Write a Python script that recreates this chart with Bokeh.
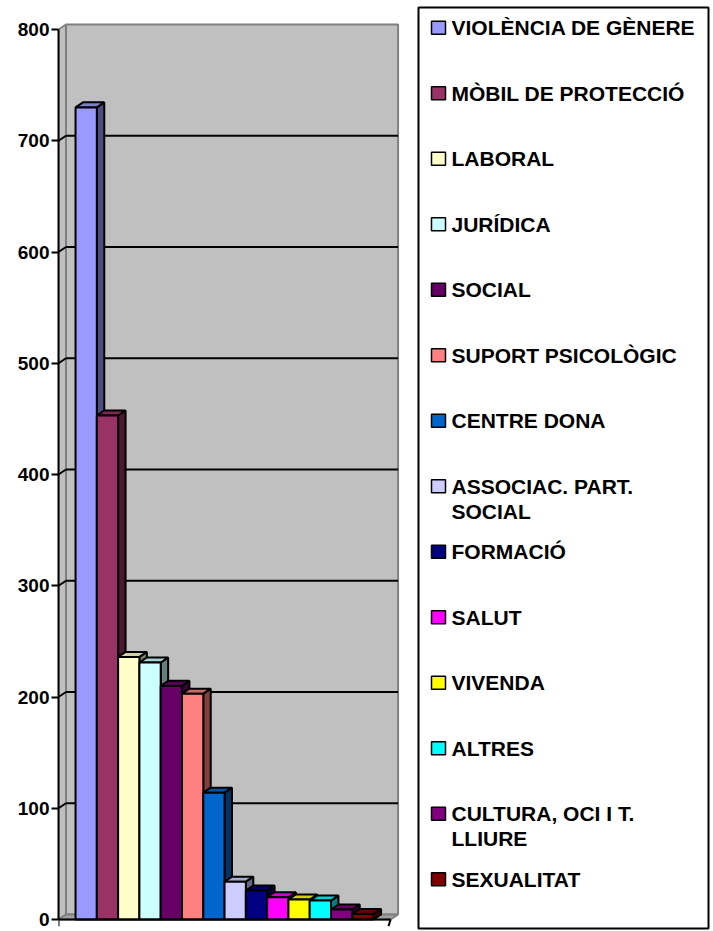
from bokeh.plotting import figure
from bokeh.models import Range1d, FixedTicker, ColumnDataSource
from bokeh.layouts import row
from bokeh.embed import file_html
from bokeh.resources import INLINE
from bokeh.core.properties import value

# ---------------- data ----------------
categories = ["VIOLÈNCIA DE GÈNERE", "MÒBIL DE PROTECCIÓ", "LABORAL", "JURÍDICA",
              "SOCIAL", "SUPORT PSICOLÒGIC", "CENTRE DONA", "ASSOCIAC. PART.\nSOCIAL",
              "FORMACIÓ", "SALUT", "VIVENDA", "ALTRES", "CULTURA, OCI I T.\nLLIURE",
              "SEXUALITAT"]
counts = [730, 453, 236, 231, 210, 203, 114, 34, 26, 20, 18, 17, 9, 5]
colors = ["#9999FF", "#993366", "#FFFFCC", "#CCFFFF", "#660066", "#FF8080", "#0066CC",
          "#CCCCFF", "#000080", "#FF00FF", "#FFFF00", "#00FFFF", "#800080", "#800000"]
y_ticks = [0, 100, 200, 300, 400, 500, 600, 700, 800]

FONT = "Liberation Sans"


def shade(hx, f):
    hx = hx.lstrip("#")
    r, g, b = (int(hx[k:k + 2], 16) for k in (0, 2, 4))
    return "#%02x%02x%02x" % (int(r * f), int(g * f), int(b * f))


# ---------------- chart ----------------
n = len(counts)
x_lo, x_hi = -0.8, n + 0.8
DX, DY = 0.35, 4.5
PX_CAT = 21.29
PX_VAL = 1.1125
FW, FH = 343, 921
y_bottom = -9.0 / PX_VAL

p = figure(width=410, height=931, output_backend="svg", toolbar_location=None, title=None,
           x_range=Range1d(x_lo, x_lo + FW / PX_CAT),
           y_range=Range1d(y_bottom, y_bottom + FH / PX_VAL),
           min_border_left=58, min_border_right=9, min_border_top=7, min_border_bottom=3,
           x_axis_location=None, outline_line_color=None)
p.grid.visible = False

ax = p.yaxis[0]
ax.ticker = FixedTicker(ticks=y_ticks)
ax.bounds = (y_ticks[0], y_ticks[-1])
ax.axis_line_color = "black"
ax.axis_line_width = 2
ax.major_tick_out = 7
ax.major_tick_in = 0
ax.major_tick_line_width = 2
ax.major_tick_line_color = "black"
ax.minor_tick_out = 0
ax.minor_tick_in = 0
ax.major_label_text_font = FONT
ax.major_label_text_font_size = "19px"
ax.major_label_text_font_style = "bold"
ax.major_label_text_color = "black"
ax.major_label_standoff = 2

top_v = y_ticks[-1]
# back wall
p.quad(left=x_lo + DX, right=x_hi + DX, bottom=DY, top=top_v + DY,
       fill_color="#C0C0C0", line_color="#808080", line_width=2)
# left side wall
p.patch([x_lo, x_lo, x_lo + DX, x_lo + DX], [0, top_v, top_v + DY, DY],
        fill_color="#C0C0C0", line_color="#808080", line_width=2)
# floor
p.patch([x_lo, x_hi, x_hi + DX, x_lo + DX], [0, 0, DY, DY],
        fill_color="#A0A0A0", line_color="#808080", line_width=2)
# gridlines on back wall + slanted pieces on the side wall
inner = y_ticks[1:-1]
p.segment(x0=[x_lo + DX] * len(inner), y0=[v + DY for v in inner],
          x1=[x_hi + DX] * len(inner), y1=[v + DY for v in inner],
          line_color="black", line_width=2)
p.segment(x0=[x_lo] * len(inner), y0=inner,
          x1=[x_lo + DX] * len(inner), y1=[v + DY for v in inner],
          line_color="black", line_width=2)

idx = list(range(n))
side_xs = [[i + 1, i + 1 + DX, i + 1 + DX, i + 1] for i in idx]
side_ys = [[0, DY, v + DY, v] for v in counts]
top_xs = [[i, i + 1, i + 1 + DX, i + DX] for i in idx]
top_ys = [[v, v, v + DY, v + DY] for v in counts]

p.patches(side_xs, side_ys, fill_color=[shade(c, 0.5) for c in colors],
          line_color="black", line_width=2)
p.patches(top_xs, top_ys, fill_color=[shade(c, 0.82) for c in colors],
          line_color="black", line_width=2)
p.quad(left=idx, right=[i + 1 for i in idx], bottom=0, top=counts,
       fill_color=colors, line_color="black", line_width=2)

# front floor edge and end ticks
p.segment(x0=[x_lo], y0=[0], x1=[x_hi], y1=[0], line_color="black", line_width=2)
p.segment(x0=[x_lo, x_hi], y0=[0, 0], x1=[x_lo, x_hi - 0.1], y1=[-6, -6],
          line_color="black", line_width=2)

# ---------------- legend ----------------
PITCH = 65.5
lg = figure(width=303, height=931, output_backend="svg", toolbar_location=None, title=None,
            x_range=Range1d(0, 290), y_range=Range1d(13.751, -0.31),
            min_border_left=8, min_border_right=5, min_border_top=7, min_border_bottom=3,
            x_axis_location=None, y_axis_location=None,
            outline_line_color="black", outline_line_width=2)
lg.grid.visible = False

lg.rect(x=20, y=idx, width=14, height=13, width_units="screen", height_units="screen",
        fill_color=colors, line_color="black", line_width=1.5)

tx, ty, tt = [], [], []
for i, cat in enumerate(categories):
    for j, line in enumerate(cat.split("\n")):
        tx.append(33)
        ty.append(i + j * 25.0 / PITCH)
        tt.append(line)
lg.text(x="x", y="y", text="t", source=ColumnDataSource(dict(x=tx, y=ty, t=tt)),
        text_font=value(FONT), text_font_size="21px", text_font_style="bold",
        text_color="black", text_baseline="middle", text_align="left")

layout = row(p, lg)
open("out.html", "w").write(file_html(layout, INLINE))
